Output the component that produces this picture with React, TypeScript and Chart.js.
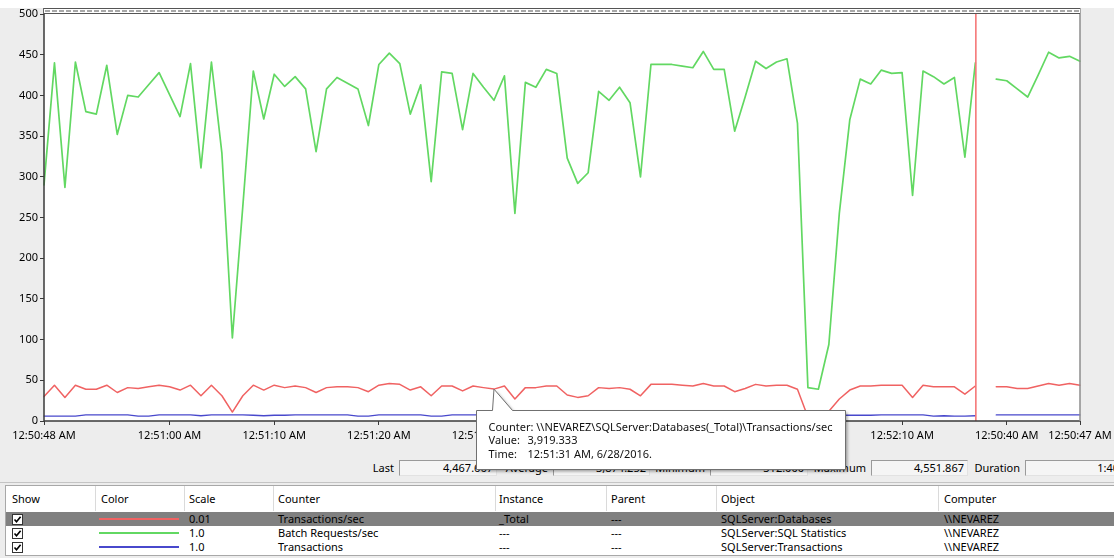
import React, { useEffect, useRef } from "react";
import { Chart, registerables } from "chart.js";

Chart.register(...registerables);

const FONT = "'Noto Sans', 'DejaVu Sans', sans-serif";

// ---- data (100-sample circular display, cursor after slot 89) ----
const batchRequestsPerSec = [
  290, 440, 287, 441, 380, 377, 437, 352, 400, 398,
  413, 428, 401, 374, 439, 311, 441, 329, 102, 264,
  430, 371, 426, 411, 423, 408, 331, 408, 422, 415,
  408, 363, 438, 452, 439, 377, 413, 294, 429, 427,
  358, 427, 410, 394, 424, 255, 416, 410, 432, 427,
  323, 292, 305, 405, 394, 410, 391, 300, 438, 438,
  438, 436, 434, 454, 432, 432, 356, 398, 442, 433,
  441, 445, 366, 41, 39, 94, 255, 370, 420, 414,
  431, 427, 428, 277, 430, 423, 414, 422, 324, 440,
  null, 420, 418, 408, 398, 425, 453, 446, 448, 442,
];

// Transactions/sec shown at scale 0.01
const transactionsPerSec = [
  30, 44, 29, 44, 39, 39, 44, 35, 41, 40,
  42, 44, 42, 38, 44, 31, 44, 31, 11, 31,
  44, 38, 44, 41, 43, 41, 35, 41, 42, 42,
  41, 36, 44, 46, 45, 38, 42, 31, 43, 43,
  37, 43, 41, 39.19333, 43, 27, 41, 41, 43, 43,
  32, 29, 31, 41, 40, 41, 39, 31, 45, 45,
  45, 44, 43, 46, 43, 43, 36, 40, 45, 43,
  44, 44, 39, 5, 3.12, 12, 27, 38, 43, 43,
  44, 44, 44, 29, 44, 42, 42, 42, 33, 43,
  null, 42, 42, 40, 40, 43, 46, 44, 46, 44,
];

const transactions = [
  6, 6, 6, 6, 7.5, 7.5, 7.5, 7.5, 7.5, 6,
  6, 7.5, 7.5, 7.5, 7.5, 6.5, 7.5, 7.5, 7.5, 7.5,
  7, 6.5, 7, 7, 7.5, 7.5, 7.5, 7.5, 7.5, 7.5,
  6, 6, 7.5, 7.5, 7.5, 7.5, 7.5, 6, 6, 7.5,
  7.5, 7.5, 7.5, 7.5, 7, 7, 7, 7, 7, 7,
  7, 7, 7, 7, 7, 7, 7, 7, 7, 7,
  7, 7, 7, 7, 7, 7, 7, 7, 7, 7,
  7, 7, 7, 7, 7, 7, 7, 7, 7, 7,
  7.5, 7.5, 7.5, 7.5, 7.5, 6, 6.5, 6, 6, 6.5,
  null, 7.5, 7.5, 7.5, 7.5, 7.5, 7.5, 7.5, 7.5, 7.5,
];

const sampleSlots = Array.from({ length: batchRequestsPerSec.length }, (_, i) => String(i));

const TICK_SLOTS = [0, 12, 22, 32, 42, 52, 62, 72, 82, 92, 99];
const TICK_LABELS = [
  "12:50:48 AM", "12:51:00 AM", "12:51:10 AM", "12:51:20 AM", "12:51:30 AM",
  "12:51:40 AM", "12:51:50 AM", "12:52:00 AM", "12:52:10 AM", "12:50:40 AM", "12:50:47 AM",
];

const CURSOR_SLOT = 89;
const TIP_SLOT = 43;
const TIP_LINES = [
  ["Counter: \\\\NEVAREZ\\SQLServer:Databases(_Total)\\Transactions/sec", ""],
  ["Value:", "3,919.333"],
  ["Time:", "12:51:31 AM, 6/28/2016."],
];

const STAT_LABELS = ["Last", "Average", "Minimum", "Maximum", "Duration"];
const STAT_VALUES = ["4,467.667", "3,874.252", "312.000", "4,551.867", "1:40"];

const COLORS = { red: "#f06262", green: "#62d862", blue: "#4848cc" };

const COL_TITLES = ["Show", "Color", "Scale", "Counter", "Instance", "Parent", "Object", "Computer"];
const ROW_COLORS = [COLORS.red, COLORS.green, COLORS.blue];
const ROW_SCALES = ["0.01", "1.0", "1.0"];
const ROW_COUNTERS = ["Transactions/sec", "Batch Requests/sec", "Transactions"];
const ROW_INSTANCES = ["_Total", "---", "---"];
const ROW_PARENTS = ["---", "---", "---"];
const ROW_OBJECTS = ["SQLServer:Databases", "SQLServer:SQL Statistics", "SQLServer:Transactions"];
const ROW_COMPUTERS = ["\\\\NEVAREZ", "\\\\NEVAREZ", "\\\\NEVAREZ"];

// ---- layout constants (UI chrome) ----
const W = 1114;
const CANVAS_H = 476;
const PLOT_BOTTOM = 421;
const COL_X = [12, 101, 189, 278, 499, 611, 721, 944];
const COL_SEP = [95, 184, 273, 495, 606, 716, 938];
const STAT_BOX = [
  { left: 399, width: 98 },
  { left: 553, width: 97 },
  { left: 710, width: 98 },
  { left: 871, width: 97 },
  { left: 1025, width: 98 },
];

const perfmonPlugin = {
  id: "perfmon",
  beforeDraw(chart: any) {
    const { ctx, chartArea: a } = chart;
    ctx.save();
    ctx.fillStyle = "#ffffff";
    ctx.fillRect(a.left, a.top, a.right - a.left, a.bottom - a.top);
    ctx.restore();
  },
  afterDatasetsDraw(chart: any) {
    const { ctx, chartArea: a, scales } = chart;
    ctx.save();
    // time cursor
    const cx = scales.x.getPixelForValue(CURSOR_SLOT) + 0.5;
    ctx.strokeStyle = "#f57878";
    ctx.lineWidth = 1.6;
    ctx.beginPath();
    ctx.moveTo(cx, a.top);
    ctx.lineTo(cx, a.bottom);
    ctx.stroke();
    // frame
    ctx.strokeStyle = "#3a3a3a";
    ctx.lineWidth = 1.5;
    ctx.beginPath();
    ctx.moveTo(a.left, a.top - 6);
    ctx.lineTo(a.left, a.bottom);
    ctx.lineTo(a.right, a.bottom);
    ctx.stroke();
    ctx.strokeStyle = "#8c8c8c";
    ctx.beginPath();
    ctx.moveTo(a.right, a.top - 6);
    ctx.lineTo(a.right, a.bottom);
    ctx.stroke();
    // hatched top band
    const bh = 6;
    ctx.fillStyle = "#ffffff";
    ctx.fillRect(a.left, a.top - bh, a.right - a.left, bh);
    ctx.strokeStyle = "#555555";
    ctx.lineWidth = 1;
    ctx.beginPath();
    ctx.moveTo(a.left, a.top - bh + 0.5);
    ctx.lineTo(a.right, a.top - bh + 0.5);
    ctx.moveTo(a.left, a.top - 0.5);
    ctx.lineTo(a.right, a.top - 0.5);
    ctx.stroke();
    ctx.setLineDash([5, 2]);
    ctx.strokeStyle = "#a8a8a8";
    ctx.lineWidth = 2;
    ctx.beginPath();
    ctx.moveTo(a.left + 1, a.top - bh / 2);
    ctx.lineTo(a.right - 1, a.top - bh / 2);
    ctx.stroke();
    ctx.restore();
  },
  afterDraw(chart: any) {
    const { ctx, chartArea: a, scales } = chart;
    const px = scales.x.getPixelForValue(TIP_SLOT);
    const py = scales.y.getPixelForValue(transactionsPerSec[TIP_SLOT]);
    const left = Math.round(px) - 18 + 0.5;
    const top = a.bottom - 11 + 0.5;
    const w = 369;
    const h = 59;
    ctx.save();
    const path = () => {
      ctx.beginPath();
      ctx.moveTo(left, top);
      ctx.lineTo(left + 16, top);
      ctx.lineTo(px, py);
      ctx.lineTo(left + 36, top);
      ctx.lineTo(left + w, top);
      ctx.lineTo(left + w, top + h);
      ctx.lineTo(left, top + h);
      ctx.closePath();
    };
    ctx.shadowColor = "rgba(0,0,0,0.35)";
    ctx.shadowBlur = 3;
    ctx.shadowOffsetX = 2;
    ctx.shadowOffsetY = 2;
    path();
    ctx.fillStyle = "#ffffff";
    ctx.fill();
    ctx.shadowColor = "transparent";
    ctx.strokeStyle = "#707070";
    ctx.lineWidth = 1;
    path();
    ctx.stroke();
    ctx.fillStyle = "#111111";
    ctx.font = `11px ${FONT}`;
    ctx.textBaseline = "middle";
    TIP_LINES.forEach((line, i) => {
      const y = top + 17 + i * 13.5;
      ctx.fillText(line[0], left + 12, y);
      if (line[1]) ctx.fillText(line[1], left + 51, y);
    });
    ctx.restore();
  },
};

function Checkbox() {
  return (
    <svg width={11} height={11} style={{ display: "block" }}>
      <rect x={0.5} y={0.5} width={10} height={10} fill="#fff" stroke="#333" />
      <path d="M2.5 5.5 L4.5 7.8 L8.6 2.8" fill="none" stroke="#000" strokeWidth={1.6} />
    </svg>
  );
}

export default function App() {
  const canvasRef = useRef<HTMLCanvasElement | null>(null);

  useEffect(() => {
    const canvas = canvasRef.current;
    if (!canvas) return;
    const chart = new Chart(canvas, {
      type: "line",
      data: {
        labels: sampleSlots,
        datasets: [
          {
            label: "Transactions",
            data: transactions,
            borderColor: COLORS.blue,
            borderWidth: 1.4,
          },
          {
            label: "Batch Requests/sec",
            data: batchRequestsPerSec,
            borderColor: COLORS.green,
            borderWidth: 1.7,
          },
          {
            label: "Transactions/sec",
            data: transactionsPerSec,
            borderColor: COLORS.red,
            borderWidth: 1.5,
          },
        ],
      },
      options: {
        animation: false,
        responsive: false,
        devicePixelRatio: 1,
        events: [],
        spanGaps: false,
        layout: { padding: { top: 14, right: 34, left: 0, bottom: 0 } },
        elements: {
          point: { radius: 0 },
          line: { tension: 0, borderJoinStyle: "round", borderCapStyle: "round" },
        },
        plugins: {
          legend: { display: false },
          tooltip: { enabled: false },
          title: { display: false },
        },
        scales: {
          x: {
            type: "category",
            offset: false,
            border: { display: false },
            grid: {
              display: true,
              drawOnChartArea: false,
              drawTicks: true,
              tickLength: 4,
              color: "#3a3a3a",
              lineWidth: 1,
            },
            afterBuildTicks: (s: any) => {
              s.ticks = TICK_SLOTS.map((v) => ({ value: v }));
            },
            ticks: {
              autoSkip: false,
              maxRotation: 0,
              minRotation: 0,
              padding: 4,
              color: "#000",
              font: { family: FONT, size: 11 },
              callback: (v: any) => TICK_LABELS[TICK_SLOTS.indexOf(Number(v))],
            },
            afterFit: (s: any) => {
              s.height = CANVAS_H - PLOT_BOTTOM;
              s.paddingLeft = 0;
              s.paddingRight = 0;
            },
          },
          y: {
            min: 0,
            max: 500,
            border: { display: false },
            grid: {
              display: true,
              drawOnChartArea: false,
              drawTicks: true,
              tickLength: 4,
              color: "#3a3a3a",
              lineWidth: 1,
            },
            ticks: {
              stepSize: 50,
              padding: 2,
              color: "#000",
              font: { family: FONT, size: 11 },
            },
            afterFit: (s: any) => {
              s.width = 44;
              s.paddingTop = 0;
              s.paddingBottom = 0;
            },
          },
        },
      },
      plugins: [perfmonPlugin],
    } as any);
    return () => chart.destroy();
  }, []);

  const rowTop = [26, 40, 54];

  return (
    <div
      style={{
        position: "fixed",
        left: 0,
        top: 0,
        width: W,
        height: 558,
        background: "#ededed",
        overflow: "hidden",
        fontFamily: FONT,
        fontSize: 11,
        color: "#000",
      }}
    >
      <div style={{ position: "absolute", left: 0, top: 0, width: W, height: 8, background: "#fff" }} />

      {/* statistics bar */}
      {STAT_LABELS.map((lab, i) => (
        <React.Fragment key={lab}>
          <div
            style={{
              position: "absolute",
              top: 460,
              right: W - (STAT_BOX[i].left - 5),
              height: 16,
              lineHeight: "16px",
              textAlign: "right",
              whiteSpace: "nowrap",
            }}
          >
            {lab}
          </div>
          <div
            style={{
              position: "absolute",
              top: 460,
              left: STAT_BOX[i].left,
              width: STAT_BOX[i].width,
              height: 16,
              boxSizing: "border-box",
              border: "1px solid",
              borderColor: "#9a9a9a #e2e2e2 #e2e2e2 #9a9a9a",
              background: "#f5f5f5",
              textAlign: "right",
              paddingRight: 3,
              lineHeight: "14px",
              whiteSpace: "nowrap",
            }}
          >
            {STAT_VALUES[i]}
          </div>
        </React.Fragment>
      ))}
      <div style={{ position: "absolute", left: 0, top: 482, width: W, height: 1, background: "#c4c4c4" }} />

      {/* counter table */}
      <div
        style={{
          position: "absolute",
          left: 5,
          top: 485,
          width: 1130,
          height: 71,
          boxSizing: "border-box",
          border: "1px solid #a8a8a8",
          background: "#ffffff",
        }}
      >
        {COL_TITLES.map((t, i) => (
          <div
            key={t}
            style={{ position: "absolute", left: COL_X[i] - 6, top: 0, height: 26, lineHeight: "26px", whiteSpace: "nowrap" }}
          >
            {t}
          </div>
        ))}
        {COL_SEP.map((x) => (
          <div key={x} style={{ position: "absolute", left: x - 6, top: 0, width: 1, height: 25, background: "#dadada" }} />
        ))}
        {ROW_COUNTERS.map((c, r) => (
          <div
            key={c}
            style={{
              position: "absolute",
              left: 0,
              top: rowTop[r],
              width: 1128,
              height: 14,
              background: r === 0 ? "#808080" : "#ffffff",
            }}
          >
            <div style={{ position: "absolute", left: 6, top: 1.5 }}>
              <Checkbox />
            </div>
            <div
              style={{ position: "absolute", left: 93, top: 6, width: 80, height: 2, background: ROW_COLORS[r] }}
            />
            {[ROW_SCALES[r], c, ROW_INSTANCES[r], ROW_PARENTS[r], ROW_OBJECTS[r], ROW_COMPUTERS[r]].map((txt, k) => (
              <div
                key={k}
                style={{
                  position: "absolute",
                  left: COL_X[k + 2] - 6,
                  top: 0,
                  height: 14,
                  lineHeight: "14px",
                  whiteSpace: "nowrap",
                  color: "#000",
                }}
              >
                {txt}
              </div>
            ))}
          </div>
        ))}
      </div>

      <canvas
        ref={canvasRef}
        width={W}
        height={CANVAS_H}
        style={{ position: "absolute", left: 0, top: 0, width: W, height: CANVAS_H, zIndex: 2, pointerEvents: "none" }}
      />
    </div>
  );
}
